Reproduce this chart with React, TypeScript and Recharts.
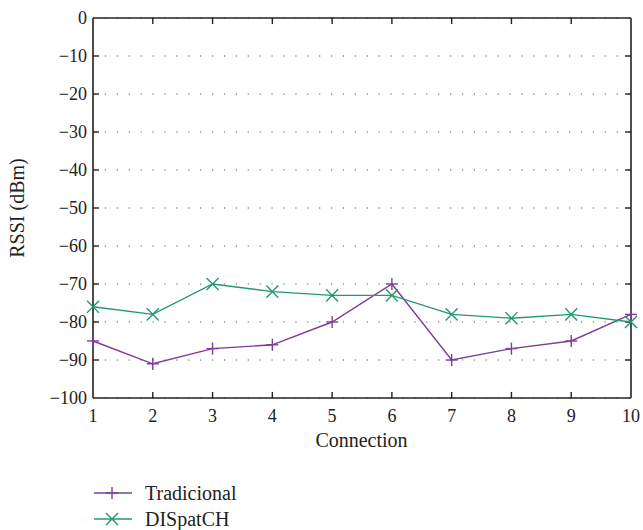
import React from 'react';
import {
  LineChart,
  Line,
  XAxis,
  YAxis,
  CartesianGrid,
  ReferenceLine,
} from 'recharts';

// Connection index on the x axis
const connections = [1, 2, 3, 4, 5, 6, 7, 8, 9, 10];
// RSSI values (dBm)
const tradicional = [-85, -91, -87, -86, -80, -70, -90, -87, -85, -78];
const dispatch = [-76, -78, -70, -72, -73, -73, -78, -79, -78, -80];

const yTicks = [0, -10, -20, -30, -40, -50, -60, -70, -80, -90, -100];
const xTicks = connections;

const PURPLE = '#7d3c98';
const GREEN = '#22996e';
const FONT = 'Liberation Serif';
const INK = '#222';

// tick / marker half-sizes in data units (~60px per x unit, ~3.8px per y unit)
const X_MAJOR = 0.1;
const Y_MAJOR = 1.6;

const chartData = connections.map((c, i) => ({
  connection: c,
  tradicional: tradicional[i],
  dispatch: dispatch[i],
}));

const fmtMinus = (v: number) => String(v).replace('-', '\u2212');

const legendItems = [
  { name: 'Tradicional', color: PURPLE, marker: 'plus' },
  { name: 'DISpatCH', color: GREEN, marker: 'cross' },
];

const App: React.FC = () => {
  const tickStyle = { fill: INK, fontSize: 18, fontFamily: FONT };
  return (
    <div style={{ position: 'absolute', left: 0, top: 0, width: 643, height: 530, background: '#fff' }}>
      <LineChart width={643} height={530} data={chartData} margin={{ top: 18, right: 12, left: 0, bottom: 82 }}>
        <CartesianGrid horizontal vertical={false} stroke="#555" strokeDasharray="1.2 10.7" />
        <XAxis
          dataKey="connection"
          type="number"
          domain={[1, 10]}
          ticks={xTicks}
          interval={0}
          tick={tickStyle}
          tickLine={false}
          axisLine={false}
          tickMargin={5}
          height={50}
        />
        <YAxis
          type="number"
          domain={[-100, 0]}
          ticks={yTicks}
          interval={0}
          width={93}
          tick={tickStyle}
          tickFormatter={fmtMinus}
          tickLine={false}
          axisLine={false}
          tickMargin={0}
        />

        {/* box around the plot area */}
        <ReferenceLine y={0} stroke={INK} strokeWidth={1.6} ifOverflow="visible" />
        <ReferenceLine y={-100} stroke={INK} strokeWidth={1.6} ifOverflow="visible" />
        <ReferenceLine x={1} stroke={INK} strokeWidth={1.6} ifOverflow="visible" />
        <ReferenceLine x={10} stroke={INK} strokeWidth={1.6} ifOverflow="visible" />

        {/* inward major ticks on all four sides */}
        {xTicks.slice(1, -1).map((t) => (
          <ReferenceLine key={'bt' + t} ifOverflow="visible" segment={[{ x: t, y: -100 }, { x: t, y: -100 + Y_MAJOR }]} stroke={INK} strokeWidth={1.4} />
        ))}
        {xTicks.slice(1, -1).map((t) => (
          <ReferenceLine key={'tt' + t} ifOverflow="visible" segment={[{ x: t, y: 0 }, { x: t, y: -Y_MAJOR }]} stroke={INK} strokeWidth={1.4} />
        ))}
        {yTicks.slice(1, -1).map((t) => (
          <ReferenceLine key={'lt' + t} ifOverflow="visible" segment={[{ x: 1, y: t }, { x: 1 + X_MAJOR, y: t }]} stroke={INK} strokeWidth={1.4} />
        ))}
        {yTicks.slice(1, -1).map((t) => (
          <ReferenceLine key={'rt' + t} ifOverflow="visible" segment={[{ x: 10, y: t }, { x: 10 - X_MAJOR, y: t }]} stroke={INK} strokeWidth={1.4} />
        ))}

        <Line
          type="linear"
          dataKey="tradicional"
          stroke={PURPLE}
          strokeWidth={1.4}
          dot={false}
          isAnimationActive={false}
        />
        <Line
          type="linear"
          dataKey="dispatch"
          stroke={GREEN}
          strokeWidth={1.4}
          dot={false}
          isAnimationActive={false}
        />

        {/* "+" markers for Tradicional */}
        {connections.map((c, i) => (
          <ReferenceLine key={'ph' + c} ifOverflow="visible" segment={[{ x: c - X_MAJOR, y: tradicional[i] }, { x: c + X_MAJOR, y: tradicional[i] }]} stroke={PURPLE} strokeWidth={1.4} />
        ))}
        {connections.map((c, i) => (
          <ReferenceLine key={'pv' + c} ifOverflow="visible" segment={[{ x: c, y: tradicional[i] - Y_MAJOR }, { x: c, y: tradicional[i] + Y_MAJOR }]} stroke={PURPLE} strokeWidth={1.4} />
        ))}
        {/* "x" markers for DISpatCH */}
        {connections.map((c, i) => (
          <ReferenceLine key={'xa' + c} ifOverflow="visible" segment={[{ x: c - X_MAJOR, y: dispatch[i] - Y_MAJOR }, { x: c + X_MAJOR, y: dispatch[i] + Y_MAJOR }]} stroke={GREEN} strokeWidth={1.4} />
        ))}
        {connections.map((c, i) => (
          <ReferenceLine key={'xb' + c} ifOverflow="visible" segment={[{ x: c - X_MAJOR, y: dispatch[i] + Y_MAJOR }, { x: c + X_MAJOR, y: dispatch[i] - Y_MAJOR }]} stroke={GREEN} strokeWidth={1.4} />
        ))}
      </LineChart>

      {/* axis titles */}
      <div
        style={{
          position: 'absolute',
          left: 93,
          top: 429,
          width: 537,
          textAlign: 'center',
          fontSize: 20,
          lineHeight: '23px',
          color: INK,
          fontFamily: FONT,
        }}
      >
        Connection
      </div>
      <div
        style={{
          position: 'absolute',
          left: 17,
          top: 208,
          transform: 'translate(-50%, -50%) rotate(-90deg)',
          whiteSpace: 'nowrap',
          fontSize: 20,
          lineHeight: '23px',
          color: INK,
          fontFamily: FONT,
        }}
      >
        RSSI (dBm)
      </div>

      {/* legend */}
      <div style={{ position: 'absolute', left: 93, top: 480, fontSize: 20, color: INK, fontFamily: FONT }}>
        {legendItems.map((item) => (
          <div key={item.name} style={{ display: 'flex', alignItems: 'center', height: 26 }}>
            <svg width={40} height={16} style={{ marginRight: 12 }}>
              <line x1={1} y1={8} x2={39} y2={8} stroke={item.color} strokeWidth={1.4} />
              {item.marker === 'plus' ? (
                <g stroke={item.color} strokeWidth={1.4}>
                  <line x1={13} y1={8} x2={25} y2={8} />
                  <line x1={19} y1={2} x2={19} y2={14} />
                </g>
              ) : (
                <g stroke={item.color} strokeWidth={1.4}>
                  <line x1={13} y1={2} x2={25} y2={14} />
                  <line x1={13} y1={14} x2={25} y2={2} />
                </g>
              )}
            </svg>
            <span>{item.name}</span>
          </div>
        ))}
      </div>
    </div>
  );
};

export default App;
